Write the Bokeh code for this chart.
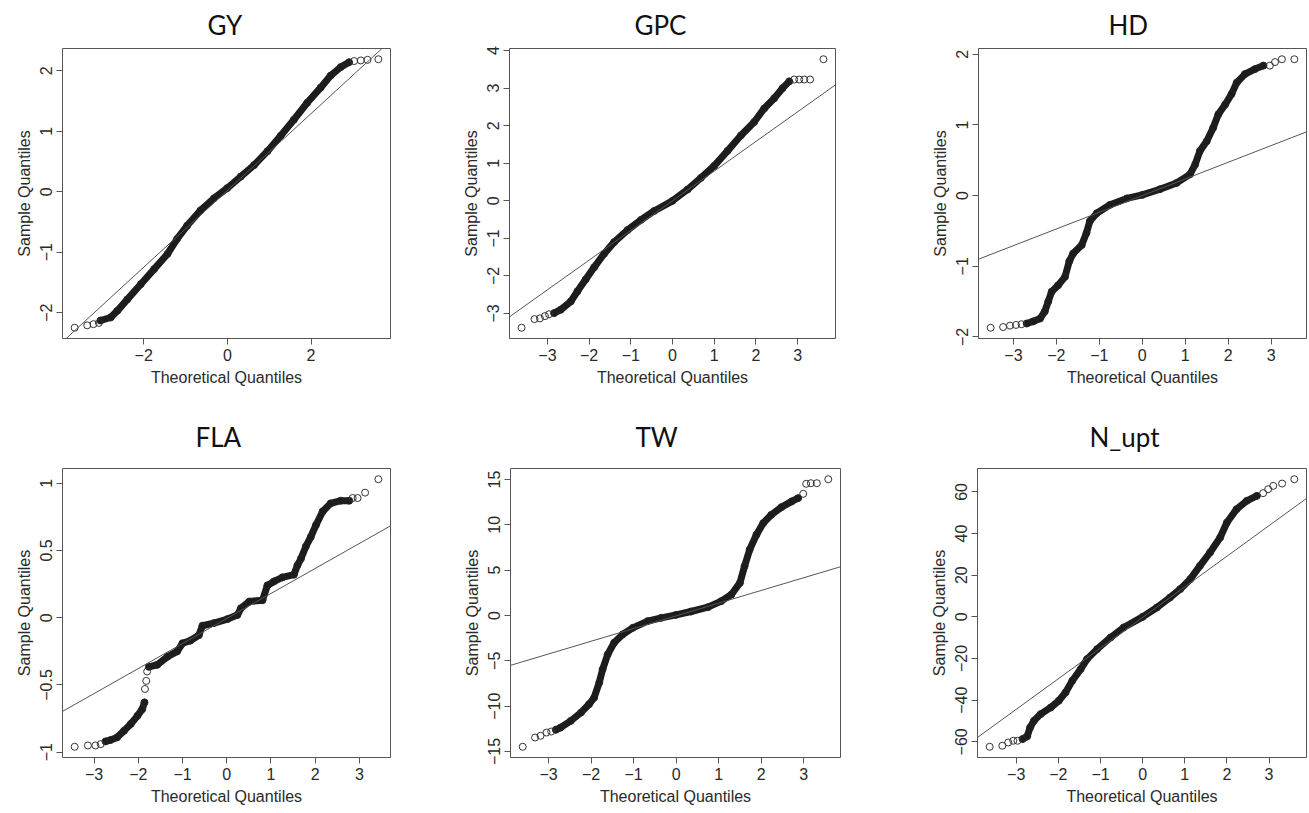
from bokeh.plotting import figure
from bokeh.models import Range1d, FixedTicker, Slope
from bokeh.layouts import row, column
from bokeh.embed import file_html
from bokeh.resources import INLINE

NAN = float("nan")

# ---------------- data ----------------
titles = ["GY", "GPC", "HD", "FLA", "TW", "N_upt"]

# GY
gy_body_x = [-3.03, -2.79, -2.63, -2.39, -2.07, -1.75, -1.43, -1.20, -0.96, -0.64, -0.32, 0.0,
             0.32, 0.64, 0.96, 1.27, 1.59, 1.91, 2.23, 2.47, 2.71, 2.91]
gy_body_y = [-2.13, -2.08, -1.97, -1.78, -1.53, -1.28, -1.03, -0.78, -0.56, -0.31, -0.11, 0.06,
             0.25, 0.44, 0.67, 0.92, 1.19, 1.47, 1.72, 1.92, 2.06, 2.14]
gy_tail_x = [-3.65, -3.35, -3.20, -3.07, 3.03, 3.19, 3.35, 3.61]
gy_tail_y = [-2.25, -2.21, -2.19, -2.17, 2.16, 2.17, 2.18, 2.19]
gy_line = (0.635, 0.02)
gy_xticks = [-2, 0, 2]
gy_yticks = [-2, -1, 0, 1, 2]

# GPC
gpc_body_x = [-2.84, -2.68, -2.44, -2.28, -2.08, -1.88, -1.64, -1.40, -1.08, -0.76, -0.44, 0.0,
              0.36, 0.68, 1.00, 1.32, 1.64, 1.96, 2.20, 2.44, 2.64, 2.80]
gpc_body_y = [-2.99, -2.90, -2.68, -2.41, -2.09, -1.77, -1.41, -1.10, -0.78, -0.51, -0.27, 0.0,
              0.30, 0.61, 0.93, 1.33, 1.74, 2.10, 2.46, 2.73, 3.00, 3.18]
gpc_tail_x = [-3.62, -3.31, -3.18, -3.06, -2.96, 2.92, 3.04, 3.16, 3.30, 3.62]
gpc_tail_y = [-3.38, -3.15, -3.13, -3.07, -3.02, 3.23, 3.23, 3.23, 3.23, 3.77]
gpc_line = (0.79, 0.0)
gpc_xticks = [-3, -2, -1, 0, 1, 2, 3]
gpc_yticks = [-3, -2, -1, 0, 1, 2, 3, 4]

# HD
hd_body_x = [-2.69, -2.54, -2.38, -2.27, -2.19, -2.11, -1.96, -1.80, -1.70, -1.61, -1.41, -1.30,
             -1.22, -1.06, -0.75, -0.36, 0.0, 0.41, 0.80, 1.11, 1.23, 1.34, 1.50, 1.65, 1.77,
             1.93, 2.08, 2.20, 2.39, 2.62, 2.82]
hd_body_y = [-1.81, -1.78, -1.74, -1.64, -1.50, -1.36, -1.27, -1.15, -0.93, -0.82, -0.70, -0.53,
             -0.36, -0.25, -0.13, -0.04, 0.01, 0.09, 0.18, 0.30, 0.44, 0.63, 0.77, 0.96, 1.15,
             1.29, 1.44, 1.60, 1.72, 1.79, 1.84]
hd_tail_x = [-3.53, -3.24, -3.08, -2.94, -2.81, 2.97, 3.09, 3.25, 3.54]
hd_tail_y = [-1.87, -1.86, -1.84, -1.83, -1.82, 1.84, 1.89, 1.93, 1.93]
hd_line = (0.236, 0.0)
hd_xticks = [-3, -2, -1, 0, 1, 2, 3]
hd_yticks = [-2, -1, 0, 1, 2]

# FLA (two dense runs separated by a gap)
fla_body_x = [-2.74, -2.63, -2.48, -2.32, -2.17, -2.02, -1.91, -1.86, NAN,
              -1.76, -1.57, -1.34, -1.12, -1.00, -0.82, -0.63, -0.55, -0.29, 0.02, 0.24, 0.32,
              0.51, 0.81, 0.92, 1.07, 1.26, 1.52, 1.60, 1.68, 1.79, 1.90, 2.02, 2.17, 2.35,
              2.58, 2.77]
fla_body_y = [-0.92, -0.91, -0.89, -0.84, -0.79, -0.73, -0.68, -0.63, NAN,
              -0.365, -0.35, -0.29, -0.25, -0.19, -0.17, -0.13, -0.06, -0.04, -0.01, 0.02, 0.07,
              0.12, 0.13, 0.24, 0.27, 0.30, 0.32, 0.39, 0.44, 0.53, 0.60, 0.69, 0.79, 0.85,
              0.87, 0.87]
fla_tail_x = [-3.44, -3.14, -2.97, -2.85, -1.85, -1.82, -1.80, 2.85, 2.96, 3.13, 3.43]
fla_tail_y = [-0.96, -0.95, -0.95, -0.94, -0.53, -0.47, -0.40, 0.89, 0.89, 0.93, 1.03]
fla_line = (0.186, -0.006)
fla_xticks = [-3, -2, -1, 0, 1, 2, 3]
fla_yticks = [-1.0, -0.5, 0.0, 0.5, 1.0]

# TW
tw_body_x = [-2.83, -2.72, -2.48, -2.24, -2.05, -1.93, -1.81, -1.73, -1.61, -1.46, -1.26, -1.02,
             -0.67, -0.35, 0.0, 0.35, 0.75, 1.06, 1.30, 1.50, 1.61, 1.73, 1.89, 2.05, 2.24,
             2.48, 2.72, 2.87]
tw_body_y = [-12.6, -12.36, -11.62, -10.71, -9.79, -9.06, -7.41, -5.94, -4.29, -3.01, -2.09,
             -1.36, -0.62, -0.26, 0.07, 0.44, 0.92, 1.58, 2.31, 3.59, 5.43, 7.26, 8.91, 10.19,
             11.11, 11.95, 12.58, 12.94]
tw_tail_x = [-3.61, -3.32, -3.19, -3.05, -2.94, 2.99, 3.06, 3.17, 3.31, 3.58]
tw_tail_y = [-14.48, -13.46, -13.27, -12.91, -12.8, 13.42, 14.52, 14.59, 14.59, 15.03]
tw_line = (1.40, -0.04)
tw_xticks = [-3, -2, -1, 0, 1, 2, 3]
tw_yticks = [-15, -10, -5, 0, 5, 10, 15]

# N_upt
nu_body_x = [-2.85, -2.74, -2.67, -2.58, -2.42, -2.18, -1.99, -1.83, -1.67, -1.47, -1.32, -1.08,
             -0.76, -0.45, 0.0, 0.34, 0.65, 0.89, 1.13, 1.36, 1.60, 1.84, 2.00, 2.23, 2.47, 2.71]
nu_body_y = [-58.7, -57.4, -53.1, -49.9, -46.7, -43.5, -40.3, -36.3, -30.7, -25.1, -20.3, -15.5,
             -9.9, -5.1, 0.0, 4.5, 9.3, 13.3, 18.1, 24.5, 30.9, 38.1, 45.3, 51.7, 55.7, 58.1]
nu_tail_x = [-3.63, -3.33, -3.19, -3.07, -2.97, 2.86, 2.98, 3.10, 3.31, 3.60]
nu_tail_y = [-62.4, -61.9, -60.3, -59.5, -59.5, 59.4, 61.3, 62.9, 64.0, 66.1]
nu_line = (14.7, -0.3)
nu_xticks = [-3, -2, -1, 0, 1, 2, 3]
nu_yticks = [-60, -40, -20, 0, 20, 40, 60]

panels = [
    (titles[0], gy_body_x, gy_body_y, gy_tail_x, gy_tail_y, gy_line, gy_xticks, gy_yticks),
    (titles[1], gpc_body_x, gpc_body_y, gpc_tail_x, gpc_tail_y, gpc_line, gpc_xticks, gpc_yticks),
    (titles[2], hd_body_x, hd_body_y, hd_tail_x, hd_tail_y, hd_line, hd_xticks, hd_yticks),
    (titles[3], fla_body_x, fla_body_y, fla_tail_x, fla_tail_y, fla_line, fla_xticks, fla_yticks),
    (titles[4], tw_body_x, tw_body_y, tw_tail_x, tw_tail_y, tw_line, tw_xticks, tw_yticks),
    (titles[5], nu_body_x, nu_body_y, nu_tail_x, nu_tail_y, nu_line, nu_xticks, nu_yticks),
]

# ---------------- layout (pixels) ----------------
# per column: (border_left, frame_w, border_right, title offset from frame left) for each row
COLS = [
    [(62, 328, 65, 145), (54, 326, 89, 125), (54, 328, 2, 130)],
    [(62, 328, 66, 133), (54, 330, 83, 125), (54, 329, 2, 112)],
]
# per row: (border_top, frame_h, border_bottom, title standoff)
ROWS = [(48, 290, 67, 14), (63, 289, 55, 29)]

TEXT = "#2a2a2a"
LINE = "#555555"
AXFONT = "Liberation Sans"


def padded(vals):
    v = [a for a in vals if a == a]
    lo, hi = min(v), max(v)
    d = (hi - lo) * 0.04
    return lo - d, hi + d


def make(i, spec):
    name, bx, by, tx, ty, (grad, icpt), xticks, yticks = spec
    r, c = divmod(i, 3)
    bl, fw, br, toff = COLS[r][c]
    bt, fh, bb, tso = ROWS[r]
    x0, x1 = padded(bx + tx)
    y0, y1 = padded(by + ty)
    p = figure(width=bl + fw + br, height=bt + fh + bb,
               x_range=Range1d(x0, x1), y_range=Range1d(y0, y1),
               output_backend="svg", toolbar_location=None,
               min_border_left=bl, min_border_right=br,
               min_border_top=bt, min_border_bottom=bb)
    p.title.text = name
    p.title.text_font = "Lato"
    p.title.text_font_size = "26px"
    p.title.text_font_style = "normal"
    p.title.text_color = "#111111"
    p.title.align = "left"
    p.title.vertical_align = "middle"
    p.title.offset = toff
    p.title.standoff = tso

    p.grid.visible = False
    p.outline_line_color = LINE
    p.outline_line_width = 1
    p.outline_line_alpha = 1.0
    p.background_fill_color = "white"
    p.border_fill_color = "white"

    p.add_layout(Slope(gradient=grad, y_intercept=icpt, line_color="#555555", line_width=1))
    p.line(bx, by, line_width=7, line_color="#1c1c1c", line_join="round", line_cap="round")
    p.scatter([a for a in bx if a == a], [a for a in by if a == a], size=7, marker="circle",
              fill_color=None, line_color="#222222", line_width=1)
    p.scatter(tx, ty, size=7, marker="circle", fill_color=None, line_color="#333333", line_width=1)

    p.xaxis.ticker = FixedTicker(ticks=xticks)
    p.yaxis.ticker = FixedTicker(ticks=yticks)
    p.xaxis.bounds = (xticks[0], xticks[-1])
    p.yaxis.bounds = (yticks[0], yticks[-1])
    p.xaxis.axis_label = "Theoretical Quantiles"
    p.yaxis.axis_label = "Sample Quantiles"
    p.yaxis.major_label_orientation = "vertical"
    for ax in (p.xaxis[0], p.yaxis[0]):
        ax.axis_line_color = LINE
        ax.major_tick_line_color = LINE
        ax.major_tick_out = 6
        ax.major_tick_in = 0
        ax.minor_tick_line_color = None
        ax.major_label_text_font = AXFONT
        ax.major_label_text_font_size = "16px"
        ax.major_label_text_color = TEXT
        ax.major_label_standoff = 4
        ax.axis_label_text_font = AXFONT
        ax.axis_label_text_font_size = "16px"
        ax.axis_label_text_font_style = "normal"
        ax.axis_label_text_color = TEXT
        ax.axis_label_standoff = 5
    return p


figs = [make(i, s) for i, s in enumerate(panels)]
layout = column(row(*figs[:3]), row(*figs[3:]))
open("out.html", "w").write(file_html(layout, INLINE))
